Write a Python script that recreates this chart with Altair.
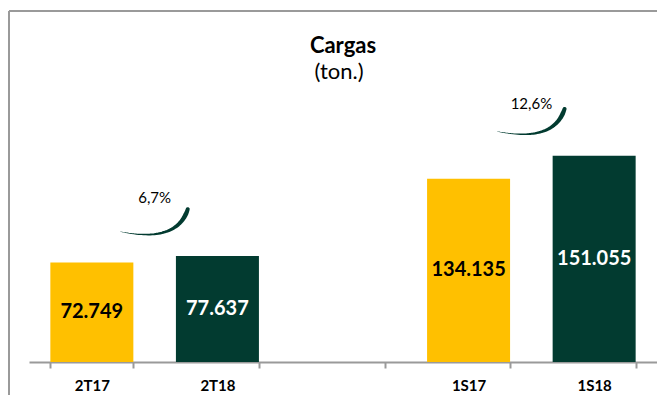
import altair as alt
import pandas as pd

# ---- data ----
CATEGORIAS = ["2T17", "2T18", " ", "1S17", "1S18"]
PERIODOS = ["2T17", "2T18", "1S17", "1S18"]
VALORES = [72749, 77637, 134135, 151055]
SERIES = ["anterior", "atual", "anterior", "atual"]
ROTULOS = ["72.749", "77.637", "134.135", "151.055"]

VARIACOES = ["6,7%", "12,6%"]
VAR_BANDA = [1, 4]            # band index of the later period of each pair
VAR_BASE = [77637, 151055]    # value of the later period of each pair
VAR_TEXTO_Y = [116400, 185000]

# swoosh arrow: quadratic curve control points, offsets from the later bar
# (x in band units, y in tons above the bar top)
SW_CTRL_DX = [-0.272, 0.178, 0.264]
SW_CTRL_DY = [17790, 9300, 34190]
SW_STEPS = 40

AMARELO = "#FFC000"
VERDE = "#023B30"
CINZA = "#9A9A9A"
FONTE = "Lato"

W, H = 628, 272
YMAX = 199100

barras = pd.DataFrame({"periodo": PERIODOS, "valor": VALORES,
                       "serie": SERIES, "rotulo": ROTULOS})

sw_rows = []
for p, (b, base) in enumerate(zip(VAR_BANDA, VAR_BASE)):
    for k in range(SW_STEPS + 1):
        t = k / SW_STEPS
        c0, c1, c2 = (1 - t) ** 2, 2 * t * (1 - t), t ** 2
        dx = c0 * SW_CTRL_DX[0] + c1 * SW_CTRL_DX[1] + c2 * SW_CTRL_DX[2]
        dy = c0 * SW_CTRL_DY[0] + c1 * SW_CTRL_DY[1] + c2 * SW_CTRL_DY[2]
        sz = 0.4 + 4.6 * t if t < 0.92 else 4.6 - 8 * (t - 0.92)
        sw_rows.append({"par": p, "ord": k, "xq": b + dx, "yq": base + dy, "sz": sz})
swoosh = pd.DataFrame(sw_rows)

var_df = pd.DataFrame({"txt": VARIACOES, "xq": VAR_BANDA, "yq": VAR_TEXTO_Y})

band_scale = alt.Scale(domain=CATEGORIAS, paddingInner=0.339, paddingOuter=0.17)
xband = alt.X("periodo:N", sort=CATEGORIAS, scale=band_scale,
              axis=alt.Axis(title=None, labelAngle=0, tickBand="extent", tickSize=6,
                            tickWidth=2, tickColor=CINZA, domainColor=CINZA, domainWidth=2,
                            labelFont=FONTE, labelFontSize=15, labelFontWeight="bold",
                            labelColor="#000000", labelPadding=10, grid=False))
yscale = alt.Scale(domain=[0, YMAX], nice=False, zero=True)

bars = alt.Chart(barras).mark_bar().encode(
    x=xband,
    y=alt.Y("valor:Q", scale=yscale, axis=None),
    color=alt.Color("serie:N", scale=alt.Scale(domain=["anterior", "atual"],
                                               range=[AMARELO, VERDE]), legend=None),
)

labels = alt.Chart(barras).transform_calculate(meio="datum.valor / 2").mark_text(
    font=FONTE, fontSize=20, fontWeight="bold", baseline="middle", align="center"
).encode(
    x=alt.X("periodo:N", sort=CATEGORIAS, scale=band_scale, axis=None),
    y=alt.Y("meio:Q", scale=yscale, axis=None),
    text="rotulo:N",
    color=alt.condition(alt.datum.serie == "anterior", alt.value("#000000"), alt.value("#FFFFFF")),
)

xq = alt.Scale(domain=[0, 5], nice=False, zero=False)

arrows = alt.Chart(swoosh).mark_trail(color=VERDE).encode(
    x=alt.X("xq:Q", scale=xq, axis=None),
    y=alt.Y("yq:Q", scale=yscale, axis=None),
    size=alt.Size("sz:Q", scale=None, legend=None),
    detail="par:N",
    order="ord:Q",
)

pct = alt.Chart(var_df).mark_text(font=FONTE, fontSize=15, color="#000000",
                                  baseline="alphabetic", align="center").encode(
    x=alt.X("xq:Q", scale=xq, axis=None),
    y=alt.Y("yq:Q", scale=yscale, axis=None),
    text="txt:N",
)

one = pd.DataFrame({"t": ["Cargas"], "s": ["(ton.)"]})
titulo = alt.Chart(one).mark_text(font=FONTE, fontSize=22, fontWeight="bold",
                                  align="center", baseline="alphabetic", color="#000000").encode(
    x=alt.value(W / 2), y=alt.value(-37), text="t:N")
subtitulo = alt.Chart(one).mark_text(font=FONTE, fontSize=22, fontWeight="normal",
                                     align="center", baseline="alphabetic", color="#000000").encode(
    x=alt.value(W / 2 - 4), y=alt.value(-11), text="s:N")

borda_h = alt.Chart(one).mark_rule(color=CINZA, strokeWidth=2).encode(
    x=alt.value(-20), x2=alt.value(W + 10), y=alt.value(-79))
borda_v = alt.Chart(one).mark_rule(color=CINZA, strokeWidth=2).encode(
    x=alt.value(-20), y=alt.value(-79), y2=alt.value(H + 40))

chart = alt.layer(borda_h, borda_v, bars, labels, arrows, pct, titulo, subtitulo).resolve_scale(
    x="independent"
).properties(
    width=W, height=H,
    autosize=alt.AutoSizeParams(type="none"),
    padding={"left": 21, "top": 82, "right": 0, "bottom": 33},
).configure(font=FONTE).configure_view(stroke="transparent", strokeWidth=0)

chart.save("out.html", embed_options={"renderer": "svg", "actions": False})
